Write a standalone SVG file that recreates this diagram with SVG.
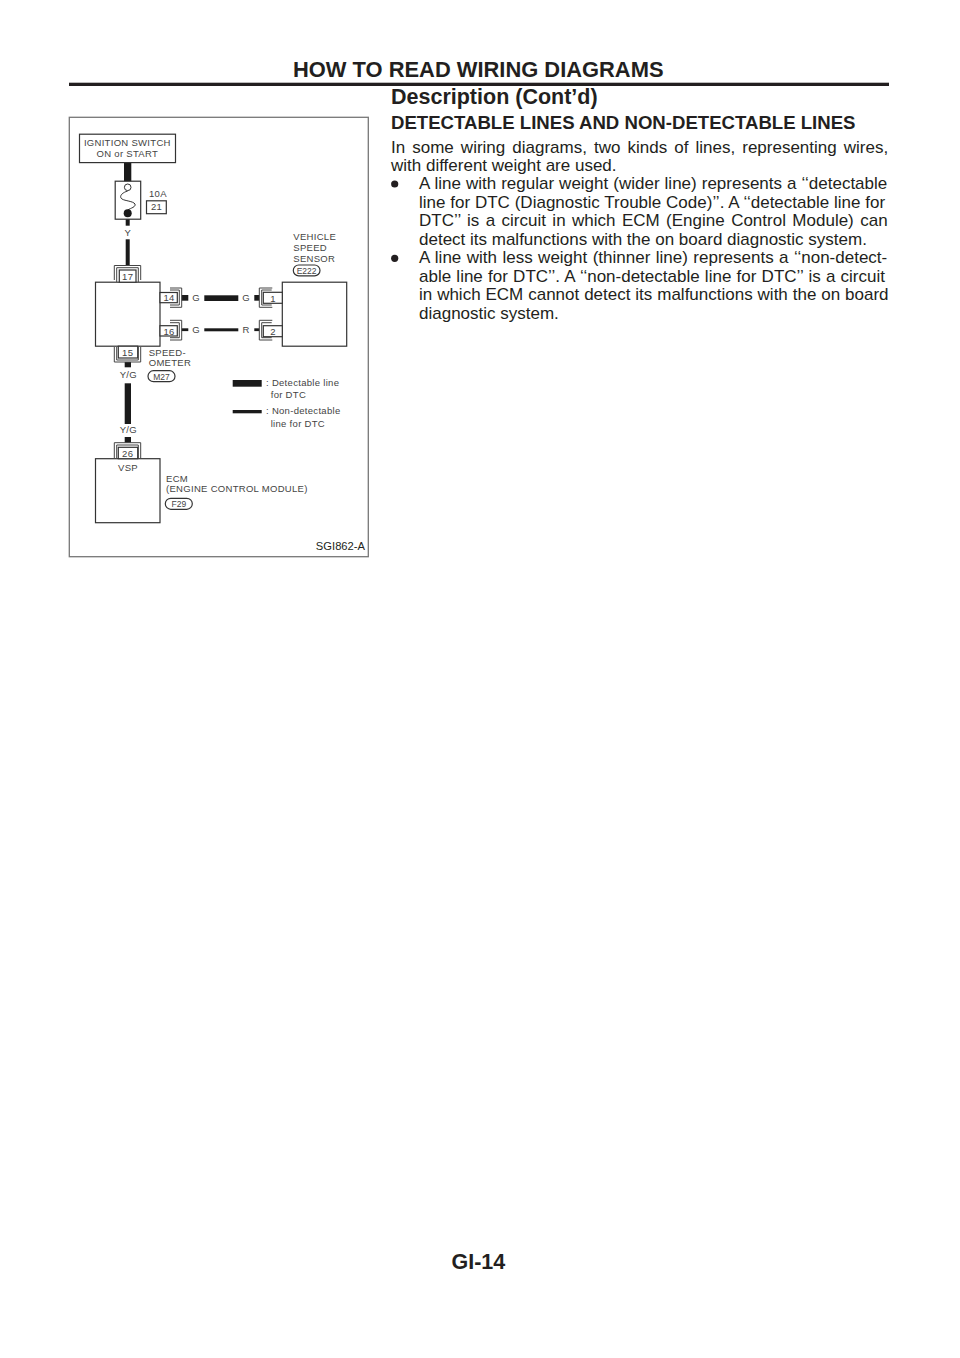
<svg xmlns="http://www.w3.org/2000/svg" width="960" height="1358" viewBox="0 0 960 1358">
<style>
text{font-family:"Liberation Sans",Arial,sans-serif;fill:#231f20}
.b{font-weight:700}
.p{font-size:17px}
.d{font-size:9.5px;fill:#444;letter-spacing:.3px}
.m{text-anchor:middle}
.box{fill:#fff;stroke:#333;stroke-width:1.2}
.con{fill:none;stroke:#444;stroke-width:1}
.w{fill:#1a1a1a}
</style>
<rect width="960" height="1358" fill="#fff"/>
<g id="page-header">
<text class="b" x="293" y="76.700" font-size="21.900">HOW TO READ WIRING DIAGRAMS</text>
<rect x="69" y="82.700" width="820" height="3.300" fill="#231f20"/>
<text class="b" x="391" y="104.300" font-size="21.500">Description (Cont’d)</text>
</g>
<g id="frame"><rect x="69.300" y="117.300" width="299" height="439.400" fill="#fff" stroke="#777" stroke-width="1.300"/></g>
<g id="connectors">
<rect class="w" x="124" y="162" width="7.300" height="20"/>
<rect class="w" x="125.700" y="219" width="4" height="6.700"/>
<rect class="w" x="125.700" y="239.300" width="4" height="26.500"/>
<rect class="w" x="181.700" y="295" width="6.600" height="5.700"/>
<rect class="w" x="204.300" y="295.300" width="34" height="5.700"/>
<rect class="w" x="254.300" y="295" width="5" height="5.700"/>
<rect class="w" x="181.700" y="328.300" width="6.600" height="2.800"/>
<rect class="w" x="204.300" y="328.300" width="34" height="3"/>
<rect class="w" x="254.300" y="328.300" width="5" height="2.800"/>
<rect class="w" x="124.700" y="362" width="6.300" height="5.300"/>
<rect class="w" x="124.700" y="383.300" width="6.300" height="40.700"/>
<rect class="w" x="124.700" y="437" width="6.300" height="5.700"/>
</g>
<g id="ignition-switch"><rect class="box" x="79.500" y="134.200" width="96" height="28.400"/>
<text class="d m" x="127.300" y="146">IGNITION SWITCH</text><text class="d m" x="127.300" y="156.700">ON or START</text></g>
<g id="fuse"><rect class="box" x="115.200" y="181.200" width="25.500" height="38"/>
<path d="M127.700 191C121 193 119 197 122 199C125 201 133 201 135 204C136 207 131 208 127.700 210" fill="none" stroke="#333"/>
<circle cx="127.700" cy="187.300" r="3.300" fill="#fff" stroke="#333"/><circle cx="127.700" cy="213.300" r="4" fill="#1a1a1a"/>
<text class="d" x="149" y="196.700">10A</text><rect class="box" x="146.500" y="200.800" width="19.800" height="12.900"/><text class="d m" x="156.500" y="210.300">21</text>
<text class="d m" x="127.700" y="236">Y</text></g>
<g id="speedometer"><rect class="box" x="95.500" y="282.200" width="64.500" height="64"/>
<path class="con" d="M114.300 280V265.500H140.700V280M116.700 282V267.700H138.300V282"/><rect class="box" x="119.300" y="270" width="16.700" height="12.200"/><text class="d m" x="127.700" y="280">17</text>
<path class="con" d="M170 288H181.700V307.300H170M170 290H179.300V305H170"/><rect class="box" x="160" y="292.500" width="17.300" height="10.200"/><text class="d m" x="169" y="301.200">14</text>
<path class="con" d="M170 320.300H181.700V340H170M170 322.700H179.300V337.700H170"/><rect class="box" x="160" y="325.700" width="17.300" height="10.300"/><text class="d m" x="169" y="334.500">16</text>
<path class="con" d="M114.300 347V362H140.700V347M116.700 347V360H138.300V347"/><rect class="box" x="118.300" y="346.200" width="19.400" height="11.800"/><text class="d m" x="127.700" y="355.500">15</text>
<text class="d" x="148.700" y="356">SPEED-</text><text class="d" x="148.700" y="366">OMETER</text>
<rect class="box" x="148" y="370.700" width="27" height="11" rx="5.500"/><text class="d m" x="161.500" y="379.500" style="font-size:8.500px;letter-spacing:0">M27</text>
<text class="d m" x="128.300" y="378.300">Y/G</text><text class="d m" x="128.300" y="433.300">Y/G</text></g>
<g id="wire-labels"><text class="d m" x="196" y="301.200">G</text><text class="d m" x="246" y="301.200">G</text><text class="d m" x="196" y="333">G</text><text class="d m" x="246" y="333">R</text></g>
<g id="vehicle-speed-sensor"><rect class="box" x="282.300" y="282.200" width="64.400" height="64"/>
<path class="con" d="M272.300 288H259.300V307.300H272.300M271.700 290H261.700V305H271.700"/><rect class="box" x="263.300" y="292.300" width="19" height="11"/><text class="d m" x="273" y="301.500">1</text>
<path class="con" d="M272.300 320.300H259.300V340H272.300M271.700 322.700H261.700V337.700H271.700"/><rect class="box" x="263.300" y="325.700" width="19" height="11"/><text class="d m" x="273" y="334.500">2</text>
<text class="d" x="293.300" y="240">VEHICLE</text><text class="d" x="293.300" y="251">SPEED</text><text class="d" x="293.300" y="261.700">SENSOR</text>
<rect class="box" x="293.300" y="265" width="26.700" height="10.800" rx="5.400"/><text class="d m" x="306.600" y="273.800" style="font-size:8.500px;letter-spacing:0">E222</text></g>
<g id="legend"><rect class="w" x="232.700" y="380" width="29" height="6.700"/><rect class="w" x="232.700" y="410" width="29" height="3.300"/>
<text class="d" x="266" y="385.700">: Detectable line</text><text class="d" x="270.700" y="398.300">for DTC</text>
<text class="d" x="266" y="414">: Non-detectable</text><text class="d" x="270.700" y="426.700">line for DTC</text></g>
<g id="ecm"><rect class="box" x="95.500" y="458.700" width="64.500" height="64"/>
<path class="con" d="M114.300 458V442.700H140.700V458M116.700 458V445H138.300V458"/><rect class="box" x="118.300" y="447.300" width="19.400" height="11.400"/><text class="d m" x="127.700" y="456.500">26</text>
<text class="d m" x="128" y="471">VSP</text>
<text class="d" x="166" y="481.700">ECM</text><text class="d" x="166" y="492.300">(ENGINE CONTROL MODULE)</text>
<rect class="box" x="165.300" y="498.300" width="27" height="11" rx="5.500"/><text class="d m" x="178.800" y="507" style="font-size:8.500px;letter-spacing:0">F29</text>
<text x="365" y="550" text-anchor="end" font-size="11.200" fill="#333">SGI862-A</text></g>
<g id="body">
<text class="b" x="391" y="129" font-size="18.600">DETECTABLE LINES AND NON-DETECTABLE LINES</text>
<g class="p">
<text x="391" y="152.700" word-spacing="2.330">In some wiring diagrams, two kinds of lines, representing wires,</text>
<text x="391" y="171.300">with different weight are used.</text>
<circle cx="394.700" cy="184" r="3.600" fill="#231f20"/>
<text x="419" y="189.300" word-spacing=".3">A line with regular weight (wider line) represents a ‘‘detectable</text>
<text x="419" y="208" word-spacing=".1">line for DTC (Diagnostic Trouble Code)’’. A ‘‘detectable line for</text>
<text x="419" y="226.300" word-spacing="1.700">DTC’’ is a circuit in which ECM (Engine Control Module) can</text>
<text x="419" y="245">detect its malfunctions with the on board diagnostic system.</text>
<circle cx="394.700" cy="258.300" r="3.600" fill="#231f20"/>
<text x="419" y="263.300" word-spacing=".72">A line with less weight (thinner line) represents a ‘‘non-detect-</text>
<text x="419" y="282" word-spacing=".5">able line for DTC’’. A ‘‘non-detectable line for DTC’’ is a circuit</text>
<text x="419" y="300.300" word-spacing=".18">in which ECM cannot detect its malfunctions with the on board</text>
<text x="419" y="319">diagnostic system.</text>
</g>
</g>
<g id="page-footer"><text class="b m" x="478.400" y="1269.300" font-size="21.500">GI-14</text></g>
</svg>
